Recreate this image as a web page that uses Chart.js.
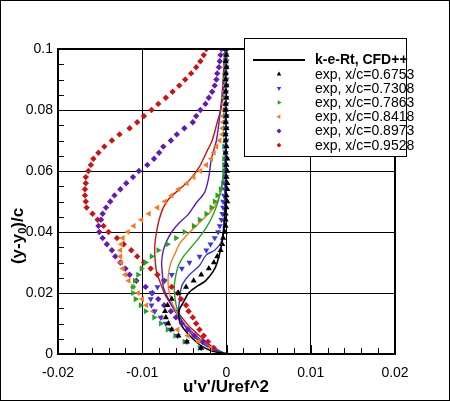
<!DOCTYPE html>
<html>
<head>
<meta charset="utf-8">
<script src="https://cdn.jsdelivr.net/npm/chart.js@4.4.1/dist/chart.umd.min.js"></script>
<style>
  html, body { margin: 0; padding: 0; background: #fff; }
  #wrap { width: 450px; height: 401px; }
</style>
</head>
<body>
<div id="wrap"><canvas id="chart" width="450" height="401"></canvas></div>
<script>
// measured heights (y-y0)/c, top to bottom
const yExp = [0.100, 0.098, 0.096, 0.094, 0.092, 0.090, 0.088, 0.086, 0.084, 0.082,
              0.080, 0.078, 0.076, 0.074, 0.072, 0.070, 0.068, 0.066, 0.064, 0.062,
              0.060, 0.058, 0.056, 0.054, 0.052, 0.050, 0.048, 0.046, 0.044, 0.042,
              0.040, 0.038, 0.036, 0.034, 0.032, 0.030, 0.028, 0.026, 0.024, 0.022,
              0.020, 0.018, 0.016, 0.014, 0.012, 0.010, 0.008, 0.006, 0.004, 0.002];

// exp u'v'/Uref^2 per station
const exp6753 = [-0.0001, 0.0000, -0.0001, 0.0000, -0.0001, -0.0001, 0.0000, -0.0001, 0.0000, -0.0001,
                 -0.0001, 0.0000, -0.0001, 0.0000, -0.0001, -0.0001, 0.0000, -0.0001, 0.0001, 0.0000,
                 0.0001, 0.0000, 0.0001, 0.0001, 0.0000, 0.0001, 0.0000, -0.0001, -0.0001, -0.0001,
                 -0.0002, -0.0004, -0.0005, -0.0007, -0.0011, -0.0015, -0.0021, -0.0030, -0.0039, -0.0048,
                 -0.0057, -0.0065, -0.0070, -0.0073, -0.0072, -0.0069, -0.0065, -0.0057, -0.0047, -0.0030];
const exp7308 = [0.0000, -0.0001, 0.0000, 0.0000, -0.0001, 0.0000, 0.0000, -0.0001, 0.0000, 0.0000,
                 -0.0001, 0.0000, -0.0001, 0.0000, -0.0001, 0.0000, -0.0001, -0.0001, 0.0000, -0.0001,
                 -0.0001, -0.0001, -0.0002, -0.0002, -0.0003, -0.0004, -0.0004, -0.0005, -0.0006, -0.0008,
                 -0.0010, -0.0014, -0.0019, -0.0024, -0.0032, -0.0044, -0.0053, -0.0065, -0.0074, -0.0082,
                 -0.0089, -0.0090, -0.0089, -0.0085, -0.0078, -0.0072, -0.0066, -0.0058, -0.0047, -0.0030];
const exp7863 = [-0.0001, -0.0001, -0.0002, -0.0001, -0.0001, -0.0002, -0.0001, -0.0001, -0.0002, -0.0001,
                 -0.0002, -0.0002, -0.0001, -0.0002, -0.0002, -0.0002, -0.0003, -0.0002, -0.0003, -0.0003,
                 -0.0003, -0.0003, -0.0004, -0.0007, -0.0011, -0.0014, -0.0018, -0.0024, -0.0032, -0.0039,
                 -0.0050, -0.0060, -0.0070, -0.0081, -0.0089, -0.0096, -0.0101, -0.0105, -0.0109, -0.0111,
                 -0.0111, -0.0108, -0.0102, -0.0096, -0.0086, -0.0078, -0.0070, -0.0061, -0.0050, -0.0032];
const exp8418 = [-0.0001, -0.0001, -0.0001, -0.0002, -0.0002, -0.0002, -0.0002, -0.0003, -0.0003, -0.0003,
                 -0.0004, -0.0004, -0.0004, -0.0005, -0.0005, -0.0008, -0.0012, -0.0015, -0.0018, -0.0024,
                 -0.0031, -0.0039, -0.0047, -0.0057, -0.0065, -0.0073, -0.0082, -0.0092, -0.0101, -0.0110,
                 -0.0117, -0.0123, -0.0125, -0.0126, -0.0126, -0.0125, -0.0123, -0.0120, -0.0116, -0.0111,
                 -0.0105, -0.0100, -0.0095, -0.0087, -0.0078, -0.0069, -0.0058, -0.0046, -0.0033, -0.0019];
const exp8973 = [-0.0006, -0.0007, -0.0008, -0.0009, -0.0011, -0.0012, -0.0014, -0.0017, -0.0021, -0.0025,
                 -0.0031, -0.0036, -0.0040, -0.0050, -0.0059, -0.0066, -0.0075, -0.0080, -0.0086, -0.0094,
                 -0.0104, -0.0111, -0.0119, -0.0126, -0.0133, -0.0138, -0.0143, -0.0147, -0.0149, -0.0152,
                 -0.0151, -0.0147, -0.0142, -0.0136, -0.0132, -0.0126, -0.0120, -0.0115, -0.0107, -0.0096,
                 -0.0088, -0.0081, -0.0074, -0.0066, -0.0060, -0.0053, -0.0046, -0.0038, -0.0028, -0.0018];
const exp9528 = [-0.0024, -0.0027, -0.0031, -0.0036, -0.0042, -0.0049, -0.0056, -0.0064, -0.0072, -0.0081,
                 -0.0089, -0.0098, -0.0106, -0.0115, -0.0127, -0.0136, -0.0145, -0.0152, -0.0158, -0.0161,
                 -0.0164, -0.0167, -0.0167, -0.0168, -0.0168, -0.0167, -0.0166, -0.0159, -0.0153, -0.0146,
                 -0.0140, -0.0130, -0.0122, -0.0113, -0.0106, -0.0098, -0.0090, -0.0082, -0.0074, -0.0065,
                 -0.0058, -0.0054, -0.0048, -0.0045, -0.0040, -0.0036, -0.0032, -0.0027, -0.0022, -0.0015];

// CFD++ profiles (k-e-Rt), each as y list + x list
const cfd6753Y = [0, 0.001, 0.0025, 0.005, 0.008, 0.011, 0.0145, 0.017, 0.020, 0.022, 0.024, 0.027, 0.030, 0.037, 0.044, 0.060, 0.100];
const cfd6753X = [0, -0.0017, -0.0029, -0.0040, -0.0050, -0.0056, -0.0056, -0.0051, -0.0045, -0.0036, -0.0025, -0.0016, -0.0011, -0.0005, -0.0002, -0.0001, 0];
const cfd7308Y = [0, 0.002, 0.005, 0.008, 0.011, 0.014, 0.017, 0.020, 0.023, 0.026, 0.029, 0.0325, 0.034, 0.037, 0.044, 0.050, 0.060, 0.100];
const cfd7308X = [0, -0.0020, -0.0036, -0.0046, -0.0053, -0.0057, -0.0056, -0.0055, -0.0052, -0.0044, -0.0032, -0.0024, -0.0014, -0.0006, -0.0003, -0.0002, -0.0001, 0];
const cfd7863Y = [0, 0.002, 0.005, 0.008, 0.011, 0.014, 0.018, 0.022, 0.026, 0.029, 0.032, 0.035, 0.038, 0.041, 0.045, 0.050, 0.055, 0.060, 0.070, 0.100];
const cfd7863X = [0, -0.0020, -0.0035, -0.0046, -0.0054, -0.0058, -0.0061, -0.0062, -0.0060, -0.0057, -0.0051, -0.0042, -0.0033, -0.0025, -0.0017, -0.0010, -0.0006, -0.0003, -0.0001, 0];
const cfd8418Y = [0, 0.002, 0.005, 0.008, 0.011, 0.014, 0.018, 0.022, 0.026, 0.030, 0.033, 0.036, 0.039, 0.042, 0.045, 0.048, 0.052, 0.056, 0.062, 0.070, 0.100];
const cfd8418X = [0, -0.0019, -0.0034, -0.0045, -0.0054, -0.0060, -0.0066, -0.0069, -0.0069, -0.0066, -0.0061, -0.0056, -0.0047, -0.0036, -0.0025, -0.0015, -0.0008, -0.0004, -0.0002, -0.0001, 0];
const cfd8973Y = [0, 0.002, 0.005, 0.008, 0.011, 0.014, 0.018, 0.022, 0.026, 0.030, 0.034, 0.037, 0.040, 0.043, 0.0456, 0.0495, 0.053, 0.058, 0.064, 0.070, 0.078, 0.086, 0.100];
const cfd8973X = [0, -0.0018, -0.0032, -0.0044, -0.0054, -0.0061, -0.0069, -0.0075, -0.0076, -0.0077, -0.0075, -0.0071, -0.0065, -0.0056, -0.0046, -0.0036, -0.0026, -0.0021, -0.0018, -0.0012, -0.0008, -0.0005, -0.0002];
const cfd9528Y = [0, 0.001, 0.003, 0.006, 0.009, 0.012, 0.015, 0.019, 0.023, 0.027, 0.032, 0.036, 0.040, 0.044, 0.048, 0.051, 0.054, 0.057, 0.061, 0.066, 0.070, 0.076, 0.081, 0.090, 0.100];
const cfd9528X = [0, -0.0008, -0.0020, -0.0032, -0.0044, -0.0053, -0.0062, -0.0072, -0.0078, -0.0083, -0.0085, -0.0085, -0.0083, -0.0080, -0.0075, -0.0068, -0.0056, -0.0044, -0.0033, -0.0024, -0.0017, -0.0011, -0.0006, -0.0003, -0.0001];

const xTicks = [-0.02, -0.01, 0, 0.01, 0.02];
const yTicks = [0, 0.02, 0.04, 0.06, 0.08, 0.1];

const colBlack = '#000000', colBlue = '#3b3bdc', colGreen = '#22a322',
      colOrange = '#f77b22', colPurple = '#6419b4', colRed = '#c81414';
const FONT = '"Liberation Sans", Arial, Helvetica, sans-serif';

const pts = (xs, ys) => xs.map((x, i) => ({ x: x, y: ys[i] }));

function cfdSet(xs, ys, color, label, width) {
  return {
    label: label, data: pts(xs, ys), showLine: true, borderColor: color,
    borderWidth: width || 1.4, pointRadius: 0, tension: 0.3, order: 2, fill: false
  };
}
function expSet(xs, color, style, rot, label) {
  return {
    label: label, data: pts(xs, yExp), showLine: false, backgroundColor: color,
    borderColor: color, borderWidth: 0, pointStyle: style, rotation: rot,
    pointRadius: style === 'rectRot' ? 3.2 : 3.5, order: 1
  };
}

const datasets = [
  cfdSet(cfd6753X, cfd6753Y, colBlack, 'k-e-Rt, CFD++', 1.6),
  cfdSet(cfd7308X, cfd7308Y, colBlue, ''),
  cfdSet(cfd7863X, cfd7863Y, colGreen, ''),
  cfdSet(cfd8418X, cfd8418Y, colOrange, ''),
  cfdSet(cfd8973X, cfd8973Y, colPurple, ''),
  cfdSet(cfd9528X, cfd9528Y, colRed, ''),
  expSet(exp6753, colBlack, 'triangle', 0, 'exp, x/c=0.6753'),
  expSet(exp7308, colBlue, 'triangle', 180, 'exp, x/c=0.7308'),
  expSet(exp7863, colGreen, 'triangle', 90, 'exp, x/c=0.7863'),
  expSet(exp8418, colOrange, 'triangle', 270, 'exp, x/c=0.8418'),
  expSet(exp8973, colPurple, 'rectRot', 0, 'exp, x/c=0.8973'),
  expSet(exp9528, colRed, 'rectRot', 0, 'exp, x/c=0.9528')
];

// legend entries: the black CFD line, then the six exp symbols
const legendItems = [0, 6, 7, 8, 9, 10, 11];

const fmt = v => { const n = Number(v.toFixed(4)); return n === 0 ? '0' : String(n); };

const tecplot = {
  id: 'tecplot',
  afterDatasetsDraw(chart) {
    const { ctx, chartArea: a, scales: { x, y } } = chart;
    ctx.save();
    ctx.strokeStyle = '#000';
    // minor ticks
    ctx.lineWidth = 1;
    ctx.beginPath();
    for (let i = 0; i <= 20; i++) {
      const px = Math.round(x.getPixelForValue(-0.02 + i * 0.002)) + 0.5;
      const len = i % 5 === 0 ? 9 : 6;
      ctx.moveTo(px, a.bottom); ctx.lineTo(px, a.bottom - len);
    }
    for (let i = 0; i <= 20; i++) {
      const py = Math.round(y.getPixelForValue(i * 0.005)) + 0.5;
      const len = i % 4 === 0 ? 9 : 6;
      ctx.moveTo(a.left, py); ctx.lineTo(a.left + len, py);
    }
    ctx.stroke();
    // frame
    ctx.lineWidth = 2;
    ctx.strokeRect(a.left, a.top, a.right - a.left, a.bottom - a.top);
    ctx.restore();
  },
  afterDraw(chart) {
    const ctx = chart.ctx;
    ctx.save();
    // legend box
    const bx = 244.5, by = 38.5, bw = 162, bh = 118;
    ctx.fillStyle = '#fff';
    ctx.fillRect(bx, by, bw, bh);
    ctx.strokeStyle = '#000';
    ctx.lineWidth = 1;
    ctx.strokeRect(bx, by, bw, bh);
    ctx.textBaseline = 'middle';
    ctx.textAlign = 'left';
    legendItems.forEach((di, k) => {
      const ds = chart.data.datasets[di];
      const ry = 60 + k * 14.2;
      if (ds.showLine) {
        ctx.strokeStyle = ds.borderColor;
        ctx.lineWidth = 2;
        ctx.beginPath(); ctx.moveTo(253, ry); ctx.lineTo(305, ry); ctx.stroke();
        ctx.font = 'bold 14px ' + FONT;
      } else {
        ctx.fillStyle = ds.backgroundColor;
        Chart.helpers.drawPoint(ctx, { pointStyle: ds.pointStyle, rotation: ds.rotation,
          radius: ds.pointRadius * 0.75, borderWidth: 0 }, 279, ry);
        ctx.font = '14px ' + FONT;
      }
      ctx.fillStyle = '#000';
      ctx.fillText(ds.label, 315, ry + 0.5);
    });
    // axis titles
    ctx.fillStyle = '#000';
    ctx.font = 'bold 17px ' + FONT;
    ctx.textAlign = 'center';
    ctx.fillText("u'v'/Uref^2", 226, 387);
    // y title with subscript
    ctx.translate(18, 236);
    ctx.rotate(-Math.PI / 2);
    const p1 = '(y-y', p2 = '0', p3 = ')/c';
    ctx.font = 'bold 17px ' + FONT;
    const w1 = ctx.measureText(p1).width, w3 = ctx.measureText(p3).width;
    ctx.font = 'bold 11px ' + FONT;
    const w2 = ctx.measureText(p2).width;
    let sx = -(w1 + w2 + w3) / 2;
    ctx.textAlign = 'left';
    ctx.font = 'bold 17px ' + FONT;
    ctx.fillText(p1, sx, 0); sx += w1;
    ctx.font = 'bold 11px ' + FONT;
    ctx.fillText(p2, sx, 5); sx += w2;
    ctx.font = 'bold 17px ' + FONT;
    ctx.fillText(p3, sx, 0);
    ctx.setTransform(1, 0, 0, 1, 0, 0);
    // outer image border
    ctx.lineWidth = 1;
    ctx.strokeStyle = '#000';
    ctx.strokeRect(0.5, 0.5, chart.width - 1, chart.height - 1);
    ctx.restore();
  }
};

new Chart(document.getElementById('chart'), {
  type: 'scatter',
  data: { datasets: datasets },
  options: {
    responsive: false,
    animation: false,
    devicePixelRatio: 1,
    layout: { padding: { top: 49, right: 55, left: 0, bottom: 0 } },
    plugins: { legend: { display: false }, tooltip: { enabled: false } },
    scales: {
      x: {
        type: 'linear', min: -0.02, max: 0.02,
        afterBuildTicks: s => { s.ticks = xTicks.map(v => ({ value: v })); },
        afterFit: s => { s.height = 47; },
        ticks: { callback: fmt, color: '#000', font: { family: FONT, size: 14 }, padding: 11, maxRotation: 0 },
        grid: { color: '#000', lineWidth: 1, drawTicks: false },
        border: { display: false }
      },
      y: {
        type: 'linear', min: 0, max: 0.1,
        afterBuildTicks: s => { s.ticks = yTicks.map(v => ({ value: v })); },
        afterFit: s => { s.width = 58; },
        ticks: { callback: fmt, color: '#000', font: { family: FONT, size: 14 }, padding: 5 },
        grid: { color: '#000', lineWidth: 1, drawTicks: false },
        border: { display: false }
      }
    }
  },
  plugins: [tecplot]
});
</script>
</body>
</html>
